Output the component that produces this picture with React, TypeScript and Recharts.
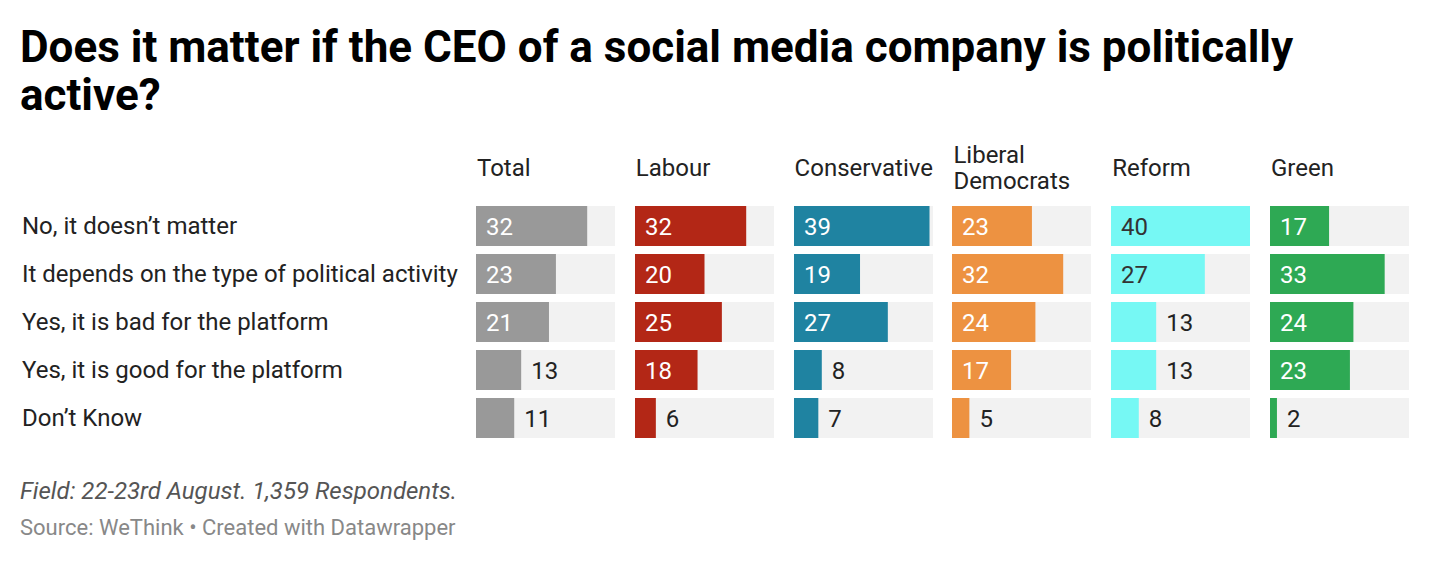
import { BarChart, Bar, XAxis, YAxis, LabelList } from 'recharts';

const rowLabels = [
  'No, it doesn’t matter',
  'It depends on the type of political activity',
  'Yes, it is bad for the platform',
  'Yes, it is good for the platform',
  'Don’t Know',
];
const groups = ['Total', 'Labour', 'Conservative', 'Liberal Democrats', 'Reform', 'Green'];
const total = [32, 23, 21, 13, 11];
const labour = [32, 20, 25, 18, 6];
const conservative = [39, 19, 27, 8, 7];
const libDem = [23, 32, 24, 17, 5];
const reform = [40, 27, 13, 13, 8];
const green = [17, 33, 24, 23, 2];
const series = [total, labour, conservative, libDem, reform, green];
const colors = ['#999999', '#b32716', '#1f83a1', '#ed9241', '#76f8f4', '#2ea954'];
const insideText = ['#ffffff', '#ffffff', '#ffffff', '#ffffff', '#333333', '#ffffff'];

const FONT = 'Roboto, sans-serif';
const COL_X = 476;
const COL_STEP = 158.8;
const COL_W = 139;
const LABEL_W = 456;

function RowTick(props: any) {
  const { y, payload } = props;
  return (
    <text x={2} y={y} dy="0.35em" textAnchor="start" fontSize={24} fill="#222" fontFamily={FONT}>
      {payload.value}
    </text>
  );
}

function ValueLabel(props: any, idx: number) {
  const { x, y, width, height, value } = props;
  const inside = width > 52;
  return (
    <text
      x={inside ? x + 10 : x + width + 10}
      y={y + height / 2}
      dy="0.36em"
      fontSize={24}
      fontFamily={FONT}
      fill={inside ? insideText[idx] : '#222'}
    >
      {value}
    </text>
  );
}

function Column({ idx }: { idx: number }) {
  const data = rowLabels.map((label, i) => ({ label, value: series[idx][i] }));
  const first = idx === 0;
  const left = COL_X + idx * COL_STEP - (first ? LABEL_W : 0);
  return (
    <div style={{ position: 'absolute', left, top: 202 }}>
      <BarChart
        width={COL_W + (first ? LABEL_W : 0)}
        height={240}
        data={data}
        layout="vertical"
        margin={{ top: 0, right: 0, bottom: 0, left: 0 }}
        barCategoryGap={4}
      >
        <XAxis type="number" domain={[0, 40]} hide />
        <YAxis
          type="category"
          dataKey="label"
          hide={!first}
          width={LABEL_W}
          axisLine={false}
          tickLine={false}
          tick={<RowTick />}
        />
        <Bar dataKey="value" fill={colors[idx]} background={{ fill: '#f2f2f2' }} isAnimationActive={false}>
          <LabelList dataKey="value" content={(p: any) => ValueLabel(p, idx)} />
        </Bar>
      </BarChart>
    </div>
  );
}

export default function App() {
  return (
    <div
      style={{
        position: 'absolute',
        left: 0,
        top: 0,
        width: 1440,
        height: 562,
        background: '#fff',
        fontFamily: FONT,
        color: '#222',
      }}
    >
      <div
        style={{
          position: 'absolute',
          left: 20,
          top: 23,
          width: 1380,
          fontSize: 44,
          fontWeight: 700,
          lineHeight: '48px',
          color: '#000',
        }}
      >
        Does it matter if the CEO of a social media company is politically active?
      </div>
      {groups.map((g, i) => (
        <div
          key={g}
          style={{
            position: 'absolute',
            left: COL_X + i * COL_STEP + 1,
            top: 142,
            width: 150,
            height: 52,
            display: 'flex',
            alignItems: 'center',
            fontSize: 24,
            lineHeight: '26px',
            color: '#222',
          }}
        >
          {g}
        </div>
      ))}
      {series.map((_, i) => (
        <Column key={i} idx={i} />
      ))}
      <div style={{ position: 'absolute', left: 20, top: 477, fontSize: 24, fontStyle: 'italic', color: '#555' }}>
        Field: 22-23rd August. 1,359 Respondents.
      </div>
      <div style={{ position: 'absolute', left: 20, top: 515, fontSize: 22, color: '#888' }}>
        Source: WeThink • Created with Datawrapper
      </div>
    </div>
  );
}
